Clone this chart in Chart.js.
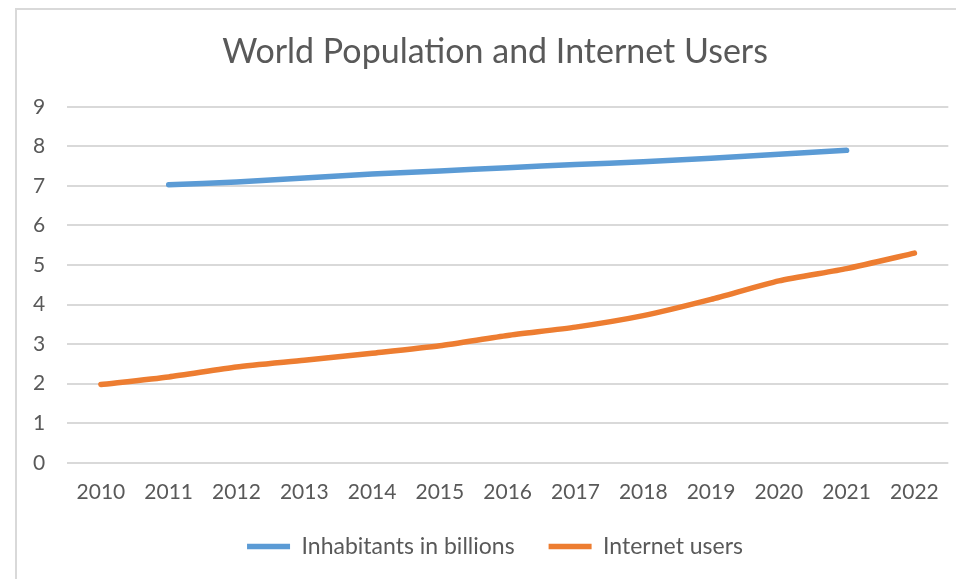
<!DOCTYPE html>
<html>
<head>
<meta charset="utf-8">
<script src="https://cdn.jsdelivr.net/npm/chart.js@4.4.1/dist/chart.umd.min.js"></script>
<style>
  html, body { margin: 0; padding: 0; background: #fff; }
  #wrap { position: relative; width: 956px; height: 579px; overflow: hidden; }
  #frame { position: absolute; left: 15px; top: 8px; width: 1000px; height: 700px; border: 2px solid #d9d9d9; box-sizing: border-box; }
  canvas { position: absolute; left: 0; top: 0; }
</style>
</head>
<body>
<div id="wrap">
  <div id="frame"></div>
  <canvas id="c" width="956" height="579"></canvas>
</div>
<script>
const years = ['2010','2011','2012','2013','2014','2015','2016','2017','2018','2019','2020','2021','2022'];
const inhabitants = [null, 7.03, 7.1, 7.2, 7.3, 7.38, 7.46, 7.54, 7.61, 7.7, 7.8, 7.9, null];
const internetUsers = [1.98, 2.17, 2.42, 2.59, 2.77, 2.96, 3.22, 3.43, 3.72, 4.13, 4.6, 4.91, 5.3];
const yTicks = [0,1,2,3,4,5,6,7,8,9];

const FONT = 'Lato, "Open Sans", sans-serif';
const TXT = '#595959';

new Chart(document.getElementById('c'), {
  type: 'line',
  data: {
    labels: years,
    datasets: [
      { label: 'Inhabitants in billions', data: inhabitants, borderColor: '#5b9bd5', backgroundColor: '#5b9bd5',
        borderWidth: 5.5, borderCapStyle: 'round', borderJoinStyle: 'round', pointRadius: 0, pointHoverRadius: 0, tension: 0.2, fill: false, spanGaps: false },
      { label: 'Internet users', data: internetUsers, borderColor: '#ed7d31', backgroundColor: '#ed7d31',
        borderWidth: 5.5, borderCapStyle: 'round', borderJoinStyle: 'round', pointRadius: 0, pointHoverRadius: 0, tension: 0.2, fill: false }
    ]
  },
  options: {
    responsive: false,
    animation: false,
    devicePixelRatio: 1,
    layout: { padding: { left: 40, right: 6, top: 24, bottom: 11 } },
    plugins: {
      title: { display: true, text: 'World Population and Internet Users', color: TXT,
        font: { family: FONT, size: 34, weight: 'normal' }, padding: { top: 8, bottom: 34 } },
      legend: { position: 'bottom', labels: { color: TXT, font: { family: FONT, size: 23 },
        usePointStyle: true, pointStyle: 'line', pointStyleWidth: 43, boxHeight: 23, padding: 34 } },
      tooltip: { enabled: false }
    },
    scales: {
      x: { offset: true, grid: { display: false, drawTicks: false }, border: { display: false },
        afterFit: (s) => { s.height -= 21; },
        ticks: { color: TXT, font: { family: FONT, size: 21 }, padding: 17, maxRotation: 0, autoSkip: false } },
      y: { min: 0, max: 9, afterBuildTicks: (s) => { s.ticks = yTicks.map(v => ({ value: v })); },
        afterFit: (s) => { s.width = 27; },
        grid: { color: '#d9d9d9', lineWidth: 2, drawTicks: false }, border: { display: false },
        ticks: { color: TXT, font: { family: FONT, size: 21 }, mirror: true, padding: -34 } }
    }
  }
});
</script>
</body>
</html>
